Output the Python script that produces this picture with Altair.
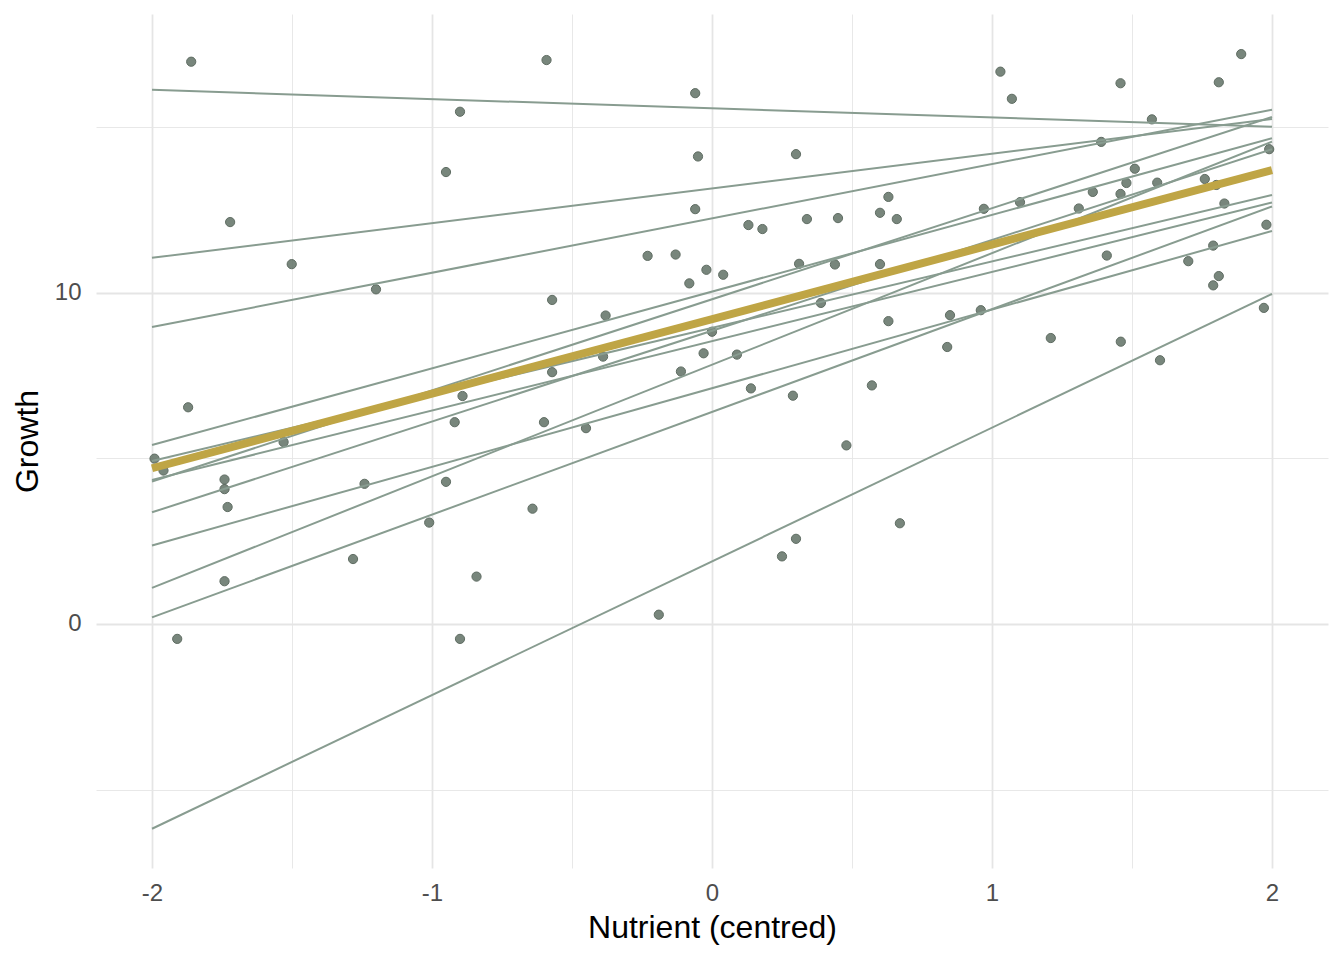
import altair as alt
import pandas as pd

# Observed plants: centred nutrient level and growth
nutrient = [
    -1.860, -0.900, -0.950, -1.721, -1.501, -1.200, -1.871, -0.891, -0.919, -1.530,
    -0.591, -0.060, -0.050, 0.300, 0.630, 0.600, 0.660, -0.060, 0.130, 0.180,
    0.339, 0.450, -0.230, -0.130, -0.020, 0.040, -0.081, 0.311, 0.439, 0.600,
    -0.571, -0.380, 0.389, 0.630, 0.000, -0.389, -0.030, 0.089, -0.571, -0.111,
    0.139, 0.289, 0.571, -0.600, -0.450, 0.480, 1.030, 1.071, 1.459, 1.810,
    1.890, 1.571, 1.390, 1.990, 1.510, 1.480, 1.590, 1.760, 1.801, 1.360,
    1.459, 1.310, 1.100, 0.971, 1.830, 1.980, 1.410, 1.790, 1.701, 1.810,
    1.790, 1.971, 0.850, 0.960, 0.840, 1.210, 1.460, 1.600, -1.991, -1.959,
    -1.741, -1.741, -1.730, -1.241, -0.950, -1.010, -1.282, -1.741, -0.841, -1.910,
    -0.900, -0.641, 0.300, 0.250, 0.671, -0.190,
]
growth = [
    16.97, 15.46, 13.64, 12.13, 10.86, 10.10, 6.54, 6.88, 6.09, 5.49,
    17.02, 16.02, 14.11, 14.18, 12.89, 12.41, 12.22, 12.52, 12.04, 11.92,
    12.22, 12.25, 11.11, 11.15, 10.69, 10.54, 10.28, 10.87, 10.85, 10.86,
    9.78, 9.31, 9.69, 9.14, 8.82, 8.07, 8.17, 8.13, 7.60, 7.62,
    7.11, 6.89, 7.20, 6.09, 5.91, 5.39, 16.67, 15.85, 16.32, 16.35,
    17.20, 15.23, 14.55, 14.33, 13.74, 13.31, 13.32, 13.43, 13.25, 13.04,
    12.98, 12.54, 12.73, 12.53, 12.69, 12.05, 11.12, 11.42, 10.95, 10.50,
    10.22, 9.54, 9.32, 9.47, 8.36, 8.63, 8.52, 7.96, 4.99, 4.63,
    4.36, 4.07, 3.53, 4.23, 4.29, 3.06, 1.96, 1.29, 1.43, -0.45,
    -0.45, 3.48, 2.57, 2.04, 3.04, 0.28,
]

# Group-level fitted lines, evaluated at the ends of the nutrient range
line_x = [-2, 2]
group_at_min = [16.12, 11.05, 8.96, 5.40, 4.30, 4.92, 4.35, 3.37, 2.37, 1.09, 0.20, -6.18]
group_at_max = [15.01, 15.24, 15.52, 14.66, 15.30, 12.95, 12.72, 14.33, 11.86, 14.56, 12.60, 9.96]

# Population-level (fixed effect) line
mean_fit = [4.70, 13.70]

# Axis breaks
x_major = [-2, -1, 0, 1, 2]
x_minor = [-1.5, -0.5, 0.5, 1.5]
y_major = [0, 10]
y_minor = [-5, 5, 15]

points = pd.DataFrame({"nutrient": nutrient, "growth": growth})

rows = []
for g, (lo, hi) in enumerate(zip(group_at_min, group_at_max)):
    rows.append({"group": g, "nutrient": line_x[0], "growth": lo})
    rows.append({"group": g, "nutrient": line_x[1], "growth": hi})
groups = pd.DataFrame(rows)

mean_line = pd.DataFrame({"nutrient": line_x, "growth": mean_fit})

FONT = "Liberation Sans"
GRID = "#E5E5E5"

x_scale = alt.Scale(domain=[-2.2, 2.2], nice=False, zero=False)
y_scale = alt.Scale(domain=[-7.365, 18.41], nice=False, zero=False)

# Major grid with labels and titles
x_major_axis = alt.Axis(
    values=x_major,
    labelExpr="'' + datum.value",
    grid=True,
    gridWidth=1.8,
    title="Nutrient (centred)",
    labelPadding=13,
    titlePadding=7,
)
y_major_axis = alt.Axis(
    values=y_major,
    labelExpr="'' + datum.value",
    grid=True,
    gridWidth=1.8,
    title="Growth",
    labelPadding=15,
    titlePadding=10,
)

# Minor grid only
x_minor_axis = alt.Axis(values=x_minor, labels=False, grid=True, gridWidth=0.9, title=None)
y_minor_axis = alt.Axis(values=y_minor, labels=False, grid=True, gridWidth=0.9, title=None)

dots = alt.Chart(points).mark_circle(
    size=85, color="#66766A", opacity=0.88, stroke="#4A594E", strokeWidth=1
).encode(
    x=alt.X("nutrient:Q", scale=x_scale, axis=x_major_axis),
    y=alt.Y("growth:Q", scale=y_scale, axis=y_major_axis),
)

group_lines = alt.Chart(groups).mark_line(
    color="#889C90", strokeWidth=2
).encode(
    x=alt.X("nutrient:Q", scale=x_scale, axis=x_minor_axis),
    y=alt.Y("growth:Q", scale=y_scale, axis=y_minor_axis),
    detail="group:N",
)

fixed_line = alt.Chart(mean_line).mark_line(
    color="#BFA545", strokeWidth=8, strokeCap="butt"
).encode(
    x=alt.X("nutrient:Q", scale=x_scale, axis=None),
    y=alt.Y("growth:Q", scale=y_scale, axis=None),
)

chart = (
    alt.layer(dots, group_lines, fixed_line)
    .resolve_axis(x="independent", y="independent")
    .properties(
        width=1232,
        height=854,
        autosize=alt.AutoSizeParams(type="none"),
        padding={"left": 96, "top": 14, "right": 16, "bottom": 92},
        background="white",
    )
    .configure_view(stroke=None)
    .configure_axis(
        domain=False,
        ticks=False,
        tickSize=0,
        gridColor=GRID,
        labelFont=FONT,
        labelFontSize=24,
        labelColor="#4D4D4D",
        titleFont=FONT,
        titleFontSize=32,
        titleFontWeight="normal",
        titleColor="black",
    )
)

chart.save("out.html", embed_options={"renderer": "svg", "actions": False})
